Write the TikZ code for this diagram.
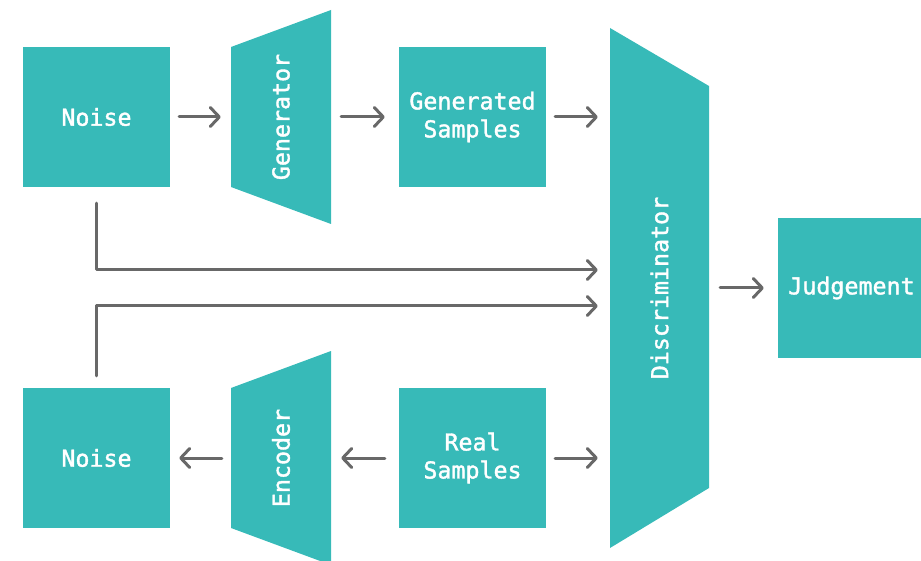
\documentclass[tikz,border=0pt]{standalone}
\usepackage{fontspec}
\newfontfamily\lblfont{DejaVu Sans Mono}[FakeBold=1.6]
\usetikzlibrary{arrows.meta}
\definecolor{teal}{HTML}{37BAB8}
\definecolor{wire}{HTML}{686868}
\begin{document}
\begin{tikzpicture}[x=1pt,y=-1pt,
  lbl/.style={font=\lblfont\fontsize{23.3}{28}\selectfont, text=white, align=center},
  box/.style={lbl, fill=teal, minimum width=147pt, minimum height=140pt, inner sep=0pt},
  frame/.style={minimum width=100pt, minimum height=140pt, inner sep=0pt},
  arr/.style={draw=wire, line width=3pt, line cap=round, line join=round,
    -{Straight Barb[length=9pt,width=19pt,line cap=round,line join=round]}}]
\useasboundingbox (0,0) rectangle (921,561);

% square blocks
\node[box] (noiseA) at (96.5,117) {Noise};
\node[box] (gensamp) at (472.5,117) {Generated\\Samples};
\node[box] (noiseB) at (96.5,458) {Noise};
\node[box] (realsamp) at (472.5,458) {Real\\Samples};
\node[box] (judge) at (851.5,288) {Judgement};

% tapered blocks
\fill[teal] (231,47) -- (331,10) -- (331,224) -- (231,187) -- cycle;
\fill[teal] (231,388) -- (331,351) -- (331,565) -- (231,528) -- cycle;
\fill[teal] (610,28) -- (709,86) -- (709,488) -- (610,548) -- cycle;
\node[frame] (gen) at (281,117) {};
\node[frame] (enc) at (281,458) {};
\node[frame, minimum width=99pt, minimum height=520pt] (disc) at (659.5,288) {};
\node[lbl, rotate=90] (genlbl) at (gen.center) {Generator};
\node[lbl, rotate=90] (enclbl) at (enc.center) {Encoder};
\node[lbl, rotate=90] (disclbl) at (disc.center) {Discriminator};

% connectors
\coordinate (upper) at (0,270);
\coordinate (lower) at (0,306);
\draw[arr, shorten <=9pt, shorten >=10pt] (noiseA.east) -- (gen.west);
\draw[arr, shorten <=10pt, shorten >=14pt] (gen.east) -- (gensamp.west);
\draw[arr, shorten <=9pt, shorten >=12pt] (gensamp.east) -- (disc.west |- gensamp.east);
\draw[arr, shorten <=9pt, shorten >=12pt] (realsamp.east) -- (disc.west |- realsamp.east);
\draw[arr, shorten <=14pt, shorten >=10pt] (realsamp.west) -- (enc.east);
\draw[arr, shorten <=9pt, shorten >=9pt] (enc.west) -- (noiseB.east);
\draw[arr, shorten <=11pt, shorten >=14pt] (disc.east |- judge.west) -- (judge.west);
\draw[arr, shorten <=16pt, shorten >=12pt] (noiseA.south) |- (disc.west |- upper);
\draw[arr, shorten <=12pt, shorten >=12pt] (noiseB.north) |- (disc.west |- lower);
\end{tikzpicture}
\end{document}
